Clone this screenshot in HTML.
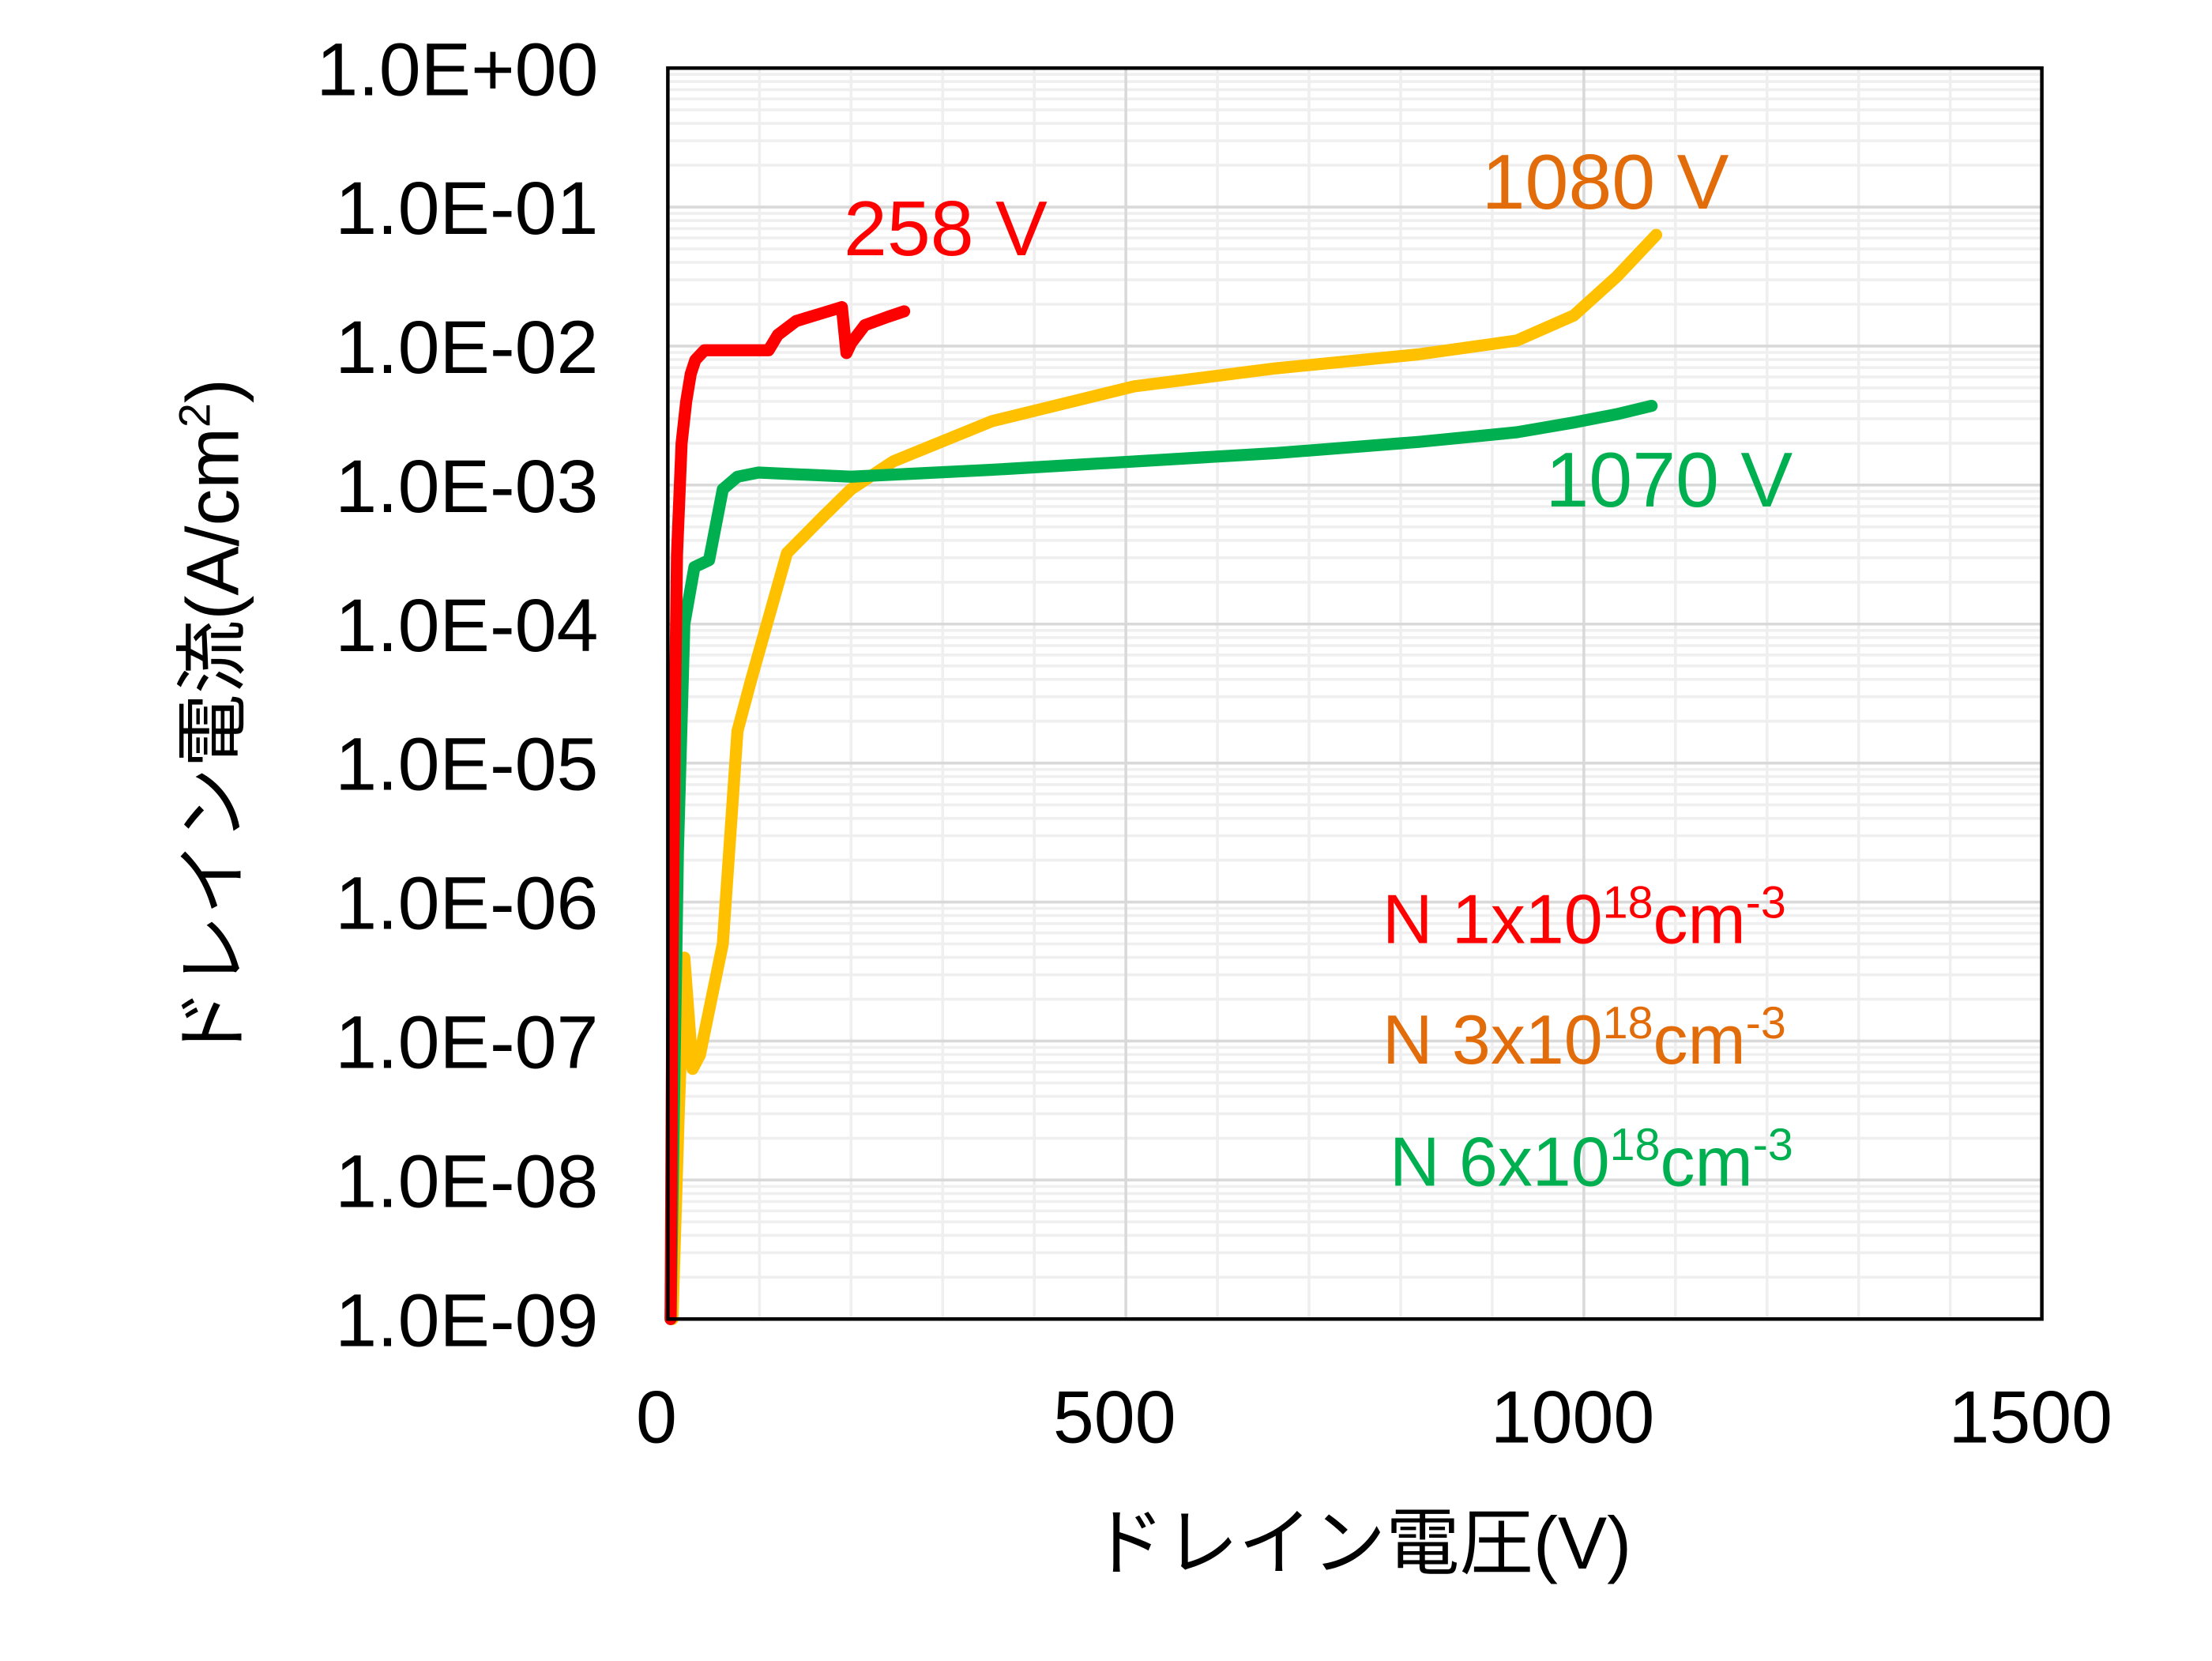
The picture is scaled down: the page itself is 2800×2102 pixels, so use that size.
<!DOCTYPE html>
<html><head><meta charset="utf-8"><style>html,body{margin:0;padding:0;background:#fff}svg{display:block}text{font-family:"Liberation Sans","Noto Sans CJK JP",sans-serif}</style></head>
<body>
<svg id="chart" width="2800" height="2102" viewBox="0 0 1560 1171.1" preserveAspectRatio="none" xmlns="http://www.w3.org/2000/svg">
<g id="grid"></g>
<g id="series"></g>
<rect x="471" y="48" width="969" height="882" fill="none" stroke="#000" stroke-width="2.5"/>
<g id="yticks" font-size="53" text-anchor="end"></g>
<g id="xticks" font-size="52" text-anchor="middle"></g>
<text x="960" y="1106" font-size="52" text-anchor="middle">ドレイン電圧(V)</text>
<text transform="translate(168,508) rotate(-90)" font-size="52" text-anchor="middle">ドレイン電流(A/cm<tspan font-size="31" dy="-20">2</tspan><tspan dy="20">)</tspan></text>
<text x="595" y="180" font-size="55" fill="#FF0000">258 V</text>
<text x="1045" y="147" font-size="55" fill="#E26B0A">1080 V</text>
<text x="1090" y="357" font-size="55" fill="#00B050">1070 V</text>
<text x="975" y="665" font-size="49" fill="#FF0000">N 1x10<tspan font-size="32" dy="-18">18</tspan><tspan dy="18">cm</tspan><tspan font-size="32" dy="-18">-3</tspan></text>
<text x="975" y="750" font-size="49" fill="#E26B0A">N 3x10<tspan font-size="32" dy="-18">18</tspan><tspan dy="18">cm</tspan><tspan font-size="32" dy="-18">-3</tspan></text>
<text x="980" y="836" font-size="49" fill="#00B050">N 6x10<tspan font-size="32" dy="-18">18</tspan><tspan dy="18">cm</tspan><tspan font-size="32" dy="-18">-3</tspan></text>
</svg>
<script>
const yTickLabels=["1.0E+00","1.0E-01","1.0E-02","1.0E-03","1.0E-04","1.0E-05","1.0E-06","1.0E-07","1.0E-08","1.0E-09"];
const xTickLabels=["0","500","1000","1500"];
const xTicks=[0,500,1000,1500];
const redV=[3,5,8,10,15,20,25,30,40,50,110,120,140,170,190,195,200,215,240,258];
const redLogI=[-9,-6.5,-4.5,-3.5,-2.7,-2.4,-2.2,-2.1,-2.03,-2.03,-2.03,-1.92,-1.82,-1.76,-1.72,-2.05,-1.98,-1.85,-1.79,-1.75];
const orangeV=[5,12,18,27,35,60,76,91,130,169,200,246,354,509,664,819,927,989,1036,1079];
const orangeLogI=[-9,-7.5,-6.4,-7.2,-7.1,-6.3,-4.77,-4.4,-3.49,-3.23,-3.03,-2.83,-2.54,-2.29,-2.16,-2.06,-1.96,-1.78,-1.5,-1.2];
const greenV=[3,11,18,29,45,60,76,99,200,354,509,664,819,927,989,1036,1074];
const greenLogI=[-9,-5.63,-4.0,-3.59,-3.54,-3.03,-2.94,-2.91,-2.94,-2.89,-2.83,-2.77,-2.69,-2.62,-2.55,-2.49,-2.43];
const L=471,R=1440,T=48,B=930;
const xs=v=>L+(v/1500)*(R-L);
const ys=l=>T+(-l/9)*(B-T);
const NS="http://www.w3.org/2000/svg";
const grid=document.getElementById('grid');
function line(x1,y1,x2,y2,c,w){const e=document.createElementNS(NS,'line');e.setAttribute('x1',x1);e.setAttribute('y1',y1);e.setAttribute('x2',x2);e.setAttribute('y2',y2);e.setAttribute('stroke',c);e.setAttribute('stroke-width',w);grid.appendChild(e);return e;}
for(let v=100;v<1500;v+=100){if(v%500){const e=line(xs(v),T,xs(v),B,'#efefef',2);}}
for(let d=0;d<9;d++){for(let m=2;m<10;m++){const y=ys(-d-1+Math.log10(m));const e=line(L,y,R,y,'#efefef',2);}}
for(let v=500;v<1500;v+=500){const e=line(xs(v),T,xs(v),B,'#d9d9d9',2);}
for(let d=1;d<9;d++){const e=line(L,ys(-d),R,ys(-d),'#d9d9d9',2);}
const yt=document.getElementById('yticks');
yTickLabels.forEach((s,i)=>{const t=document.createElementNS(NS,'text');t.setAttribute('x',422);t.setAttribute('y',ys(-i)+19);t.textContent=s;


yt.appendChild(t);});
const xt=document.getElementById('xticks');
xTickLabels.forEach((s,i)=>{const t=document.createElementNS(NS,'text');t.setAttribute('x',xs(xTicks[i])-8);t.setAttribute('y',1017);t.textContent=s;


xt.appendChild(t);});
const sg=document.getElementById('series');
function series(V,Li,c,name){const p=document.createElementNS(NS,'polyline');p.setAttribute('points',V.map((v,i)=>xs(v)+','+ys(Li[i])).join(' '));p.setAttribute('fill','none');p.setAttribute('stroke',c);p.setAttribute('stroke-width',8.5);p.setAttribute('stroke-linejoin','round');p.setAttribute('stroke-linecap','round');


sg.appendChild(p);}
series(orangeV,orangeLogI,'#FFC000','series-n3');
series(greenV,greenLogI,'#00B050','series-n6');
series(redV,redLogI,'#FF0000','series-n1');
</script>
</body></html>
